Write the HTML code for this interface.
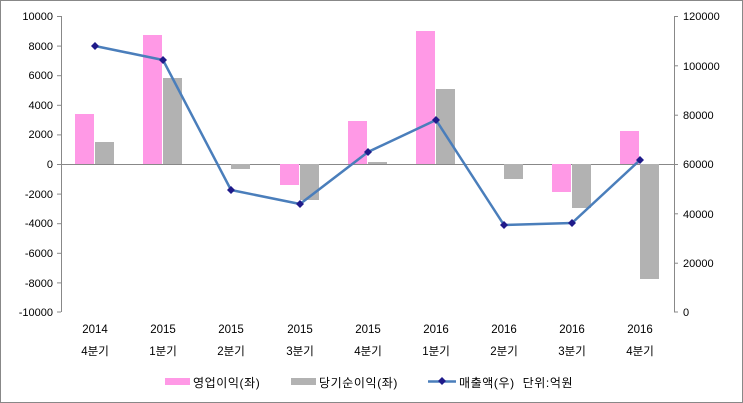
<!DOCTYPE html><html><head><meta charset="utf-8"><style>body{margin:0;background:#fff}svg{display:block}text{font-family:"Liberation Sans","Noto Sans CJK KR",sans-serif;font-size:11px;fill:#000}.lg{font-size:12px;letter-spacing:0.6px}.cat{font-size:11.5px}</style></head><body>
<svg width="743" height="403" xmlns="http://www.w3.org/2000/svg">
<rect x="0.5" y="0.5" width="742" height="402" fill="#fff" stroke="#888"/>
<g stroke="#888" stroke-width="1">
<line x1="61.5" y1="16" x2="61.5" y2="312"/><line x1="674.5" y1="16" x2="674.5" y2="312"/>
<line x1="61" y1="164.5" x2="674" y2="164.5"/>
</g>
<g stroke="#888">
<line x1="57" y1="16.5" x2="61" y2="16.5"/><line x1="57" y1="46.1" x2="61" y2="46.1"/><line x1="57" y1="75.7" x2="61" y2="75.7"/><line x1="57" y1="105.3" x2="61" y2="105.3"/><line x1="57" y1="134.9" x2="61" y2="134.9"/><line x1="57" y1="164.5" x2="61" y2="164.5"/><line x1="57" y1="194.1" x2="61" y2="194.1"/><line x1="57" y1="223.7" x2="61" y2="223.7"/><line x1="57" y1="253.3" x2="61" y2="253.3"/><line x1="57" y1="282.9" x2="61" y2="282.9"/><line x1="57" y1="312" x2="61" y2="312"/>
<line x1="674" y1="16.5" x2="678" y2="16.5"/><line x1="674" y1="65.8" x2="678" y2="65.8"/><line x1="674" y1="115.2" x2="678" y2="115.2"/><line x1="674" y1="164.5" x2="678" y2="164.5"/><line x1="674" y1="213.8" x2="678" y2="213.8"/><line x1="674" y1="263.2" x2="678" y2="263.2"/><line x1="674" y1="312" x2="678" y2="312"/>
</g>
<g text-anchor="end">
<text x="53" y="20">10000</text><text x="53" y="50">8000</text><text x="53" y="79">6000</text><text x="53" y="109">4000</text><text x="53" y="138">2000</text><text x="53" y="168">0</text><text x="53" y="198">-2000</text><text x="53" y="227">-4000</text><text x="53" y="257">-6000</text><text x="53" y="287">-8000</text><text x="53" y="316">-10000</text>
</g>
<g>
<text x="683" y="20">120000</text><text x="683" y="70">100000</text><text x="683" y="119">80000</text><text x="683" y="168">60000</text><text x="683" y="218">40000</text><text x="683" y="267">20000</text><text x="683" y="316">0</text>
</g>
<g fill="#ff99e6">
<rect x="75" y="114" width="19" height="50"/><rect x="143" y="35" width="19" height="129"/><rect x="280" y="164" width="19" height="21"/><rect x="348" y="121" width="19" height="43"/><rect x="416" y="31" width="19" height="133"/><rect x="552" y="164" width="19" height="28"/><rect x="620" y="131" width="19" height="33"/>
</g>
<g fill="#b2b2b2">
<rect x="95" y="142" width="19" height="22"/><rect x="163" y="78" width="19" height="86"/><rect x="231" y="164" width="19" height="5"/><rect x="300" y="164" width="19" height="36"/><rect x="368" y="162" width="19" height="2"/><rect x="436" y="89" width="19" height="75"/><rect x="504" y="164" width="19" height="15"/><rect x="572" y="164" width="19" height="44"/><rect x="640" y="164" width="19" height="115"/>
</g>
<polyline fill="none" stroke="#4a7ebb" stroke-width="2.5" points="95,46 163,60 231,190 300,204 368,152 436,120 504,225 572,223 640,160"/>
<g fill="#1f1a8a">
<path d="M95,42l4,4-4,4-4-4z"/><path d="M163,56l4,4-4,4-4-4z"/><path d="M231,186l4,4-4,4-4-4z"/><path d="M300,200l4,4-4,4-4-4z"/><path d="M368,148l4,4-4,4-4-4z"/><path d="M436,116l4,4-4,4-4-4z"/><path d="M504,221l4,4-4,4-4-4z"/><path d="M572,219l4,4-4,4-4-4z"/><path d="M640,156l4,4-4,4-4-4z"/>
</g>
<g text-anchor="middle" class="cat">
<text class="cat" x="95" y="333">2014</text><text class="cat" x="95" y="355">4분기</text>
<text class="cat" x="163" y="333">2015</text><text class="cat" x="163" y="355">1분기</text>
<text class="cat" x="231" y="333">2015</text><text class="cat" x="231" y="355">2분기</text>
<text class="cat" x="300" y="333">2015</text><text class="cat" x="300" y="355">3분기</text>
<text class="cat" x="368" y="333">2015</text><text class="cat" x="368" y="355">4분기</text>
<text class="cat" x="436" y="333">2016</text><text class="cat" x="436" y="355">1분기</text>
<text class="cat" x="504" y="333">2016</text><text class="cat" x="504" y="355">2분기</text>
<text class="cat" x="572" y="333">2016</text><text class="cat" x="572" y="355">3분기</text>
<text class="cat" x="640" y="333">2016</text><text class="cat" x="640" y="355">4분기</text>
</g>
<rect x="165" y="378" width="25" height="7" fill="#ff99e6"/>
<text class="lg" x="193" y="387">영업이익(좌)</text>
<rect x="291" y="378" width="25" height="7" fill="#b2b2b2"/>
<text class="lg" x="319" y="387">당기순이익(좌)</text>
<line x1="428" y1="381.5" x2="456" y2="381.5" stroke="#4a7ebb" stroke-width="2.5"/>
<path d="M442,377l4,4-4,4-4-4z" fill="#1f1a8a"/>
<text class="lg" x="459" y="387" xml:space="preserve">매출액(우)  단위:억원</text>
</svg>
</body></html>
